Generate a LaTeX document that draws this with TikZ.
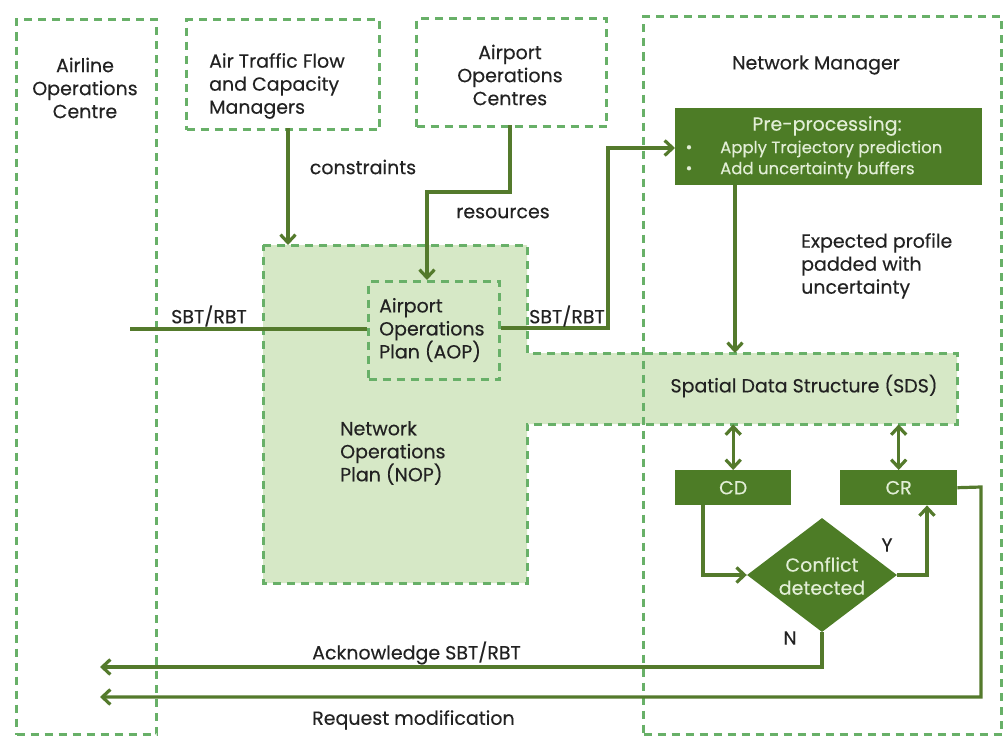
\documentclass[tikz,border=0pt]{standalone}
\usepackage{fontspec}
\setmainfont{Poppins}[FakeBold=0.3]
\usetikzlibrary{arrows.meta,shapes.geometric}

\definecolor{zoneline}{RGB}{104,176,104}
\definecolor{planfill}{RGB}{214,232,198}
\definecolor{darkbox}{RGB}{77,124,38}
\definecolor{flow}{RGB}{84,122,44}
\definecolor{boxtext}{RGB}{226,238,214}
\definecolor{ink}{RGB}{34,34,34}

\tikzset{
  zoneedge/.style={draw=zoneline, line width=3pt, dash pattern=on 8pt off 6pt},
  zone/.style={zoneedge, inner sep=0pt, anchor=north west},
  solidbox/.style={fill=darkbox, draw=none, inner sep=0pt, anchor=north west},
  area/.style={inner sep=0pt, anchor=north west},
  txt/.style={text=ink, font=\fontsize{19}{23}\selectfont, inner sep=0pt},
  boxtxt/.style={text=boxtext, font=\fontsize{19}{23}\selectfont, inner sep=0pt},
  small/.style={text=boxtext, font=\fontsize{16.5}{21}\selectfont, inner sep=0pt},
  flowline/.style={draw=flow, line width=3.2pt},
  tip/.style={},
  arr/.style={flowline, -{Straight Barb[length=8pt,width=15pt]}},
  dblarr/.style={flowline, {Straight Barb[length=8pt,width=15pt]}-{Straight Barb[length=8pt,width=15pt]}},
}

\begin{document}
\begin{tikzpicture}[x=1pt, y=-1pt]
\useasboundingbox (0,0) rectangle (1007,736);

% --- plan area (NOP with the SDS strip) ---
\fill[planfill] (263,245) -- (527,245) -- (527,353) -- (957,353) -- (957,424)
  -- (527,424) -- (527,583) -- (263,583) -- cycle;
\draw[zoneedge]
  (263,245) -- (527,245) -- (527,353) -- (957,353) -- (957,424)
  -- (527,424) -- (527,583) -- (263,583) -- cycle;
\node[area, minimum width=264, minimum height=338] (nop) at (263,245) {};
\node[area, minimum width=430, minimum height=71] (sds) at (527,353) {};

% --- actor zones ---
\node[zone, minimum width=140, minimum height=715] (airline) at (15,18) {};
\node[zone, minimum width=193, minimum height=110] (atfcm) at (185,18) {};
\node[zone, minimum width=190, minimum height=108] (apoc) at (415,17) {};
\node[zone, minimum width=358, minimum height=718] (nm) at (642,15) {};
\node[zone, minimum width=131, minimum height=98] (aop) at (367,280) {};

% --- zone titles ---
\node[txt, align=center] (airlineT) at (85,88) {Airline\\Operations\\Centre};
\node[txt, align=left] (atfcmT) at (277,86) {Air Traffic Flow\\and Capacity\\Managers};
\node[txt, align=center] (apocT) at (510,75) {Airport\\Operations\\Centres};
\node[txt] (nmT) at (816,65) {Network Manager};
\node[txt, align=left, anchor=west] (aopT) at (379,330) {Airport\\Operations\\Plan (AOP)};
\node[txt, align=left, anchor=west] (nopT) at (340,453) {Network\\Operations\\Plan (NOP)};
\node[txt] (sdsT) at (804,386) {Spatial Data Structure (SDS)};

% --- processing blocks ---
\node[solidbox, minimum width=307, minimum height=77] (pre) at (675,108) {};
\node[boxtxt] (preT) at (827,126) {Pre-processing:};
\node[small, anchor=west] (b1) at (720,149) {Apply Trajectory prediction};
\node[small, anchor=west] (b2) at (720,170) {Add uncertainty buffers};
\node[small] (d1) at (689,149) {•};
\node[small] (d2) at (689,170) {•};

\node[solidbox, minimum width=116, minimum height=35] (cd) at (675,470) {};
\node[boxtxt] at (cd.center) {CD};
\node[solidbox, minimum width=117, minimum height=35] (cr) at (840,470) {};
\node[boxtxt] at (cr.center) {CR};

\node[diamond, fill=darkbox, minimum width=150, minimum height=114, inner sep=0pt] (dec) at (822,575) {};
\node[boxtxt, align=center] at (822,576) {Conflict\\detected};

% --- connectors ---
\coordinate (sbtin) at (130,329);
\coordinate (ackEnd) at (100,667);
\coordinate (reqEnd) at (100,697);

\draw[arr] (288,128) -- (288,245);
\node[txt] at (363,167) {constraints};

\draw[arr] (510,125) -- (510,192) -- (427,192) -- (aop.north -| 427,0);
\node[txt] at (503,213) {resources};

\draw[flowline] (sbtin) -- (aop.west |- sbtin);
\node[txt] at (209,316) {SBT/RBT};

\draw[arr] (aop.east |- 0,328) -- (608,328) -- (608,148) -- (pre.west |- 0,148);
\node[txt] at (567,316) {SBT/RBT};

\draw[arr] (pre.south -| 735,0) -- (sds.north -| 735,0);
\node[txt, align=left, anchor=north west] at (801,233) {Expected profile\\padded with\\uncertainty};

\draw[dblarr] (sds.south -| cd.north) -- (cd.north);
\draw[dblarr] (sds.south -| cr.north) -- (cr.north);

\draw[arr] (cd.south -| 703,0) -- (703,575) -- (dec.west);
\draw[arr] (dec.east) -- (927,575) -- (cr.south -| 927,0);
\node[txt] at (887,545) {Y};

\draw[arr] (dec.south) -- (822,667) -- (ackEnd);
\node[txt] at (790,638) {N};
\node[txt, anchor=west] at (312,653) {Acknowledge SBT/RBT};

\draw[arr] (cr.east) -- (981,487) -- (981,697) -- (reqEnd);
\node[txt, anchor=west] at (312,720) {Request modification};
\end{tikzpicture}
\end{document}
